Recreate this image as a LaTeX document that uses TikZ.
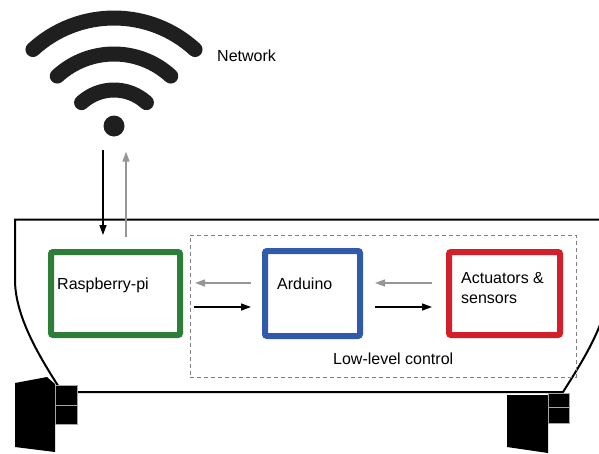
\documentclass[tikz,border=0pt]{standalone}
\usepackage{fontspec}
\setsansfont{Liberation Sans}
\usepackage{xcolor}
\definecolor{pigreen}{RGB}{46,125,56}
\definecolor{arduinoblue}{RGB}{50,90,170}
\definecolor{actred}{RGB}{210,32,42}
\definecolor{linkgray}{RGB}{150,150,150}
\tikzset{every picture/.style={/utils/exec={\sffamily\fontsize{16}{20}\selectfont}}}
\usetikzlibrary{calc}
\usetikzlibrary{positioning, arrows.meta}

\tikzset{
  unit/.style={draw, line width=6pt, rounded corners=2pt, fill=white,
    minimum height=83pt, inner sep=0pt},
  caption/.style={anchor=base west, inner sep=0pt},
  sendarrow/.style={-{Triangle[length=10pt,width=7pt]}, line width=1.3pt},
  backarrow/.style={sendarrow, linkgray},
  wave/.style={line width=15pt, line cap=round, black!88},
}

\begin{document}
\begin{tikzpicture}[x=1pt, y=-1pt]
  \useasboundingbox (0,0) rectangle (599,453);
  \clip (0,0) rectangle (599,453);

  % robot body
  \draw [line width=2pt] (62,392) .. controls (45,365) and (15,320) .. (15,280)
    -- (15,219.5) -- (610,219.5) -- (610,280)
    .. controls (610,320) and (580,365) .. (563,392) -- cycle;

  % wheels
  \fill (15,383) -- (47,377) -- (55,384) -- (55,452) -- (15,447) -- cycle;
  \filldraw [draw=gray!70, line width=1pt] (55,385) rectangle (77,405) (55,405) rectangle (77,424);
  \fill (507,395) -- (548,395) -- (548,453) -- (507,447) -- cycle;
  \filldraw [draw=gray!70, line width=1pt] (548,393) rectangle (569,407) (548,407) rectangle (569,423);

  % wifi symbol
  \node [circle, fill=black!88, minimum size=21pt, inner sep=0pt] (net) at (114,126) {};
  \foreach \r in {48,84,120}
    \draw [wave] ([yshift=-12pt]net.center) ++(-132.5:\r) arc [start angle=-132.5, end angle=-47.5, radius=\r];
  \node [caption] (netlabel) at (217,61) {Network};

  % low-level part
  \node [draw=gray, line width=0.8pt, dash pattern=on 4pt off 3pt,
    minimum width=386pt, minimum height=142pt] (lowlevel) at (383,306) {};
  \node [caption] (lowlabel) at (333,364) {Low-level control};

  \node [unit, draw=pigreen, minimum width=129pt] (pi) at (115.5,293.5) {};
  \node [unit, draw=arduinoblue, minimum width=95pt, minimum height=85pt, right=79pt of pi] (arduino) {};
  \node [unit, draw=actred, minimum width=111pt, right=83pt of arduino] (act) {};

  \node [caption] (pitext) at ([xshift=9pt,yshift=4.5pt]pi.west) {Raspberry-pi};
  \node [caption] (arduinotext) at ([xshift=15pt,yshift=4.5pt]arduino.west) {Arduino};
  \node [anchor=north west, align=left, inner sep=0pt] (acttext) at ([xshift=15pt,yshift=21pt]act.west) {Actuators \&\\sensors};

  % data links
  \draw [sendarrow, shorten <=13pt, shorten >=14pt] ([xshift=-11pt]net.south) -- ([xshift=-11pt]net.south |- pi.north);
  \draw [backarrow, shorten <=12pt, shorten >=15pt] ([xshift=12pt]net.south |- pi.north) -- ([xshift=12pt]net.south);

  \draw [sendarrow, shorten <=11pt, shorten >=11pt] ([yshift=-13.5pt]pi.east) -- ([yshift=-13.5pt]arduino.west);
  \draw [backarrow, shorten <=11pt, shorten >=12pt] ([yshift=10.5pt]arduino.west) -- ([yshift=10.5pt]pi.east);
  \draw [sendarrow, shorten <=12pt, shorten >=14pt] ([yshift=-13.5pt]arduino.east) -- ([yshift=-13.5pt]act.west);
  \draw [backarrow, shorten <=14pt, shorten >=12pt] ([yshift=10.5pt]act.west) -- ([yshift=10.5pt]arduino.east);
\end{tikzpicture}
\end{document}
